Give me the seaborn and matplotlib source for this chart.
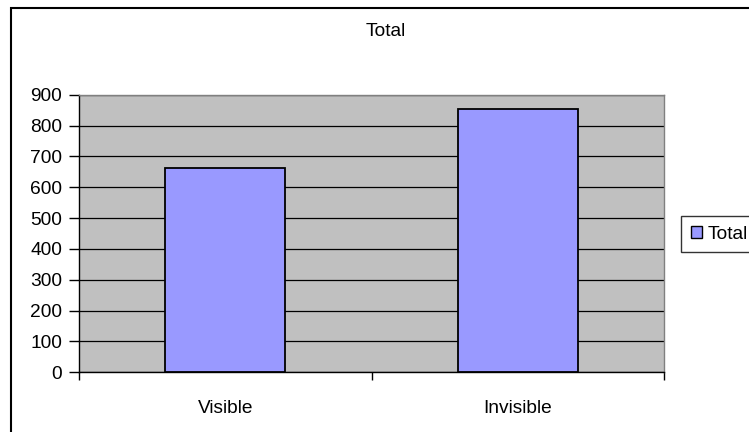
import matplotlib
matplotlib.use("Agg")
import matplotlib.pyplot as plt
import matplotlib.patches as mpatches
import seaborn as sns
import pandas as pd

categories = ["Visible", "Invisible"]
totals = [662, 853]
y_ticks = [0, 100, 200, 300, 400, 500, 600, 700, 800, 900]

df = pd.DataFrame({"category": categories, "Total": totals})

sns.set_theme(style="white")
plt.rcParams["font.family"] = ["Liberation Sans", "DejaVu Sans"]
plt.rcParams["text.color"] = "black"
plt.rcParams["xtick.color"] = "black"
plt.rcParams["ytick.color"] = "black"
plt.rcParams["xtick.labelcolor"] = "black"
plt.rcParams["ytick.labelcolor"] = "black"

FS = 13.8
W, H = 749, 432
fig = plt.figure(figsize=(W / 100, H / 100), dpi=100)
ax = fig.add_axes([79 / W, 1 - 372.3 / H, (664 - 79) / W, (372.3 - 94.7) / H])

ax.set_facecolor("#C0C0C0")
sns.barplot(data=df, x="category", y="Total", color="#9999FF", width=0.41,
            edgecolor="black", linewidth=1.3, saturation=1, ax=ax, zorder=3)

ax.set_ylim(0, 900)
ax.set_xlim(-0.5, 1.5)
ax.set_yticks(y_ticks)
ax.yaxis.grid(True, color="black", linewidth=0.9, zorder=1)
ax.set_axisbelow(True)

# category boundaries carry the tick marks, centres carry the labels
ax.set_xticks([-0.5, 0.5, 1.5])
ax.set_xticklabels([])
ax.set_xticks([0, 1], minor=True)
ax.set_xticklabels(categories, minor=True)
ax.tick_params(axis="x", which="major", direction="out", length=6, width=1,
               color="black", bottom=True)
ax.tick_params(axis="x", which="minor", length=0, pad=20, labelsize=FS,
               labelcolor="black")
ax.tick_params(axis="y", direction="out", length=7, width=1, color="black",
               left=True, pad=5, labelsize=FS, labelcolor="black")
ax.set_xlabel("")
ax.set_ylabel("")

for side in ["left", "bottom"]:
    ax.spines[side].set_color("black")
    ax.spines[side].set_linewidth(1)
for side in ["top", "right"]:
    ax.spines[side].set_color("#808080")
    ax.spines[side].set_linewidth(1)

fig.text(386 / W, 1 - 32 / H, "Total", ha="center", va="center", fontsize=FS,
         color="black")

handle = mpatches.Patch(facecolor="#9999FF", edgecolor="black", linewidth=1, label="Total")
leg = fig.legend(handles=[handle], loc="upper left",
                 bbox_to_anchor=(681 / W, 1 - 216 / H), frameon=True,
                 fancybox=False, handlelength=0.58, handleheight=0.58,
                 handletextpad=0.3, borderpad=0.5, borderaxespad=0,
                 fontsize=FS, labelcolor="black")
leg.get_frame().set_edgecolor("black")
leg.get_frame().set_linewidth(1)

# outer chart-area border
fig.patches.append(mpatches.Rectangle((11 / W, -0.2), 1.0, 1 - 8 / H + 0.2,
                                      transform=fig.transFigure, fill=False,
                                      edgecolor="black", linewidth=1.5))

fig.savefig("out.png", dpi=100)
